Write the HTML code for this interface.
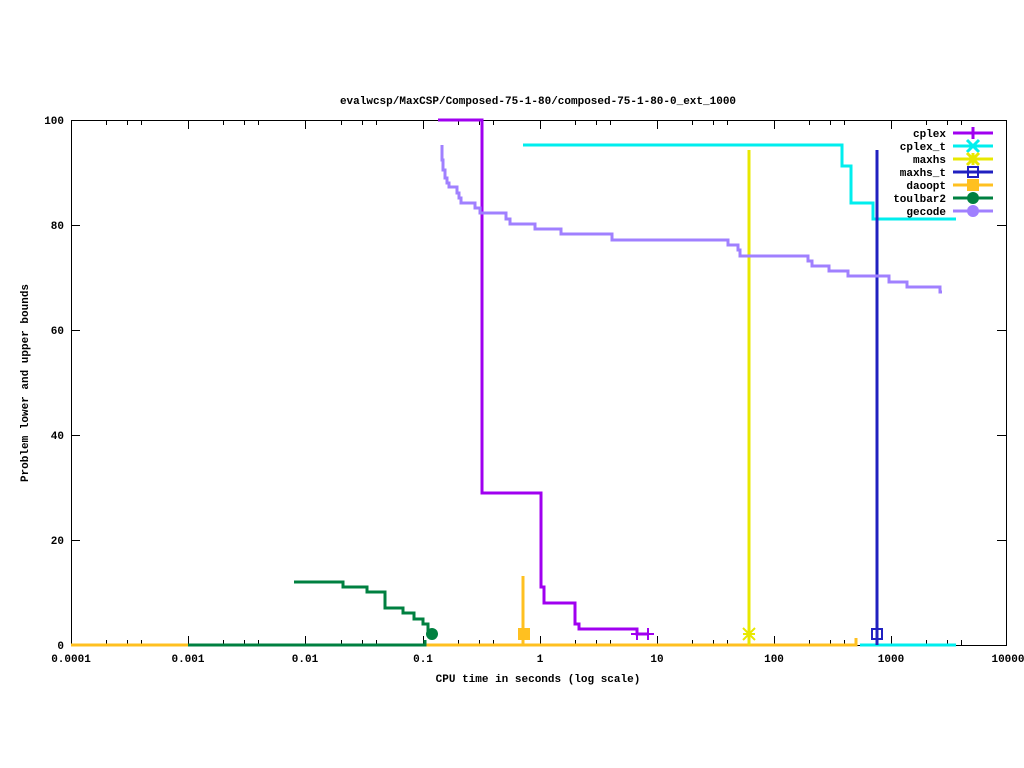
<!DOCTYPE html>
<html><head><meta charset="utf-8"><style>body{margin:0;background:#fff}svg{display:block}text{font-family:"Liberation Mono",monospace;font-size:11px;font-weight:bold;fill:#000}</style></head><body>
<svg width="1024" height="768" xmlns="http://www.w3.org/2000/svg">
<rect width="1024" height="768" fill="#fff"/>
<text x="538" y="104" text-anchor="middle">evalwcsp/MaxCSP/Composed-75-1-80/composed-75-1-80-0_ext_1000</text>
<g stroke="#000" stroke-width="1" fill="none">
<rect x="71.5" y="120.5" width="935" height="525"/>
<path d="M71 540.5h9M1006 540.5h-9M71 435.5h9M1006 435.5h-9M71 330.5h9M1006 330.5h-9M71 225.5h9M1006 225.5h-9"/>
<path d="M188.5 645v-9M188.5 120v9M305.5 645v-9M305.5 120v9M423.5 645v-9M423.5 120v9M540.5 645v-9M540.5 120v9M657.5 645v-9M657.5 120v9M774.5 645v-9M774.5 120v9M891.5 645v-9M891.5 120v9"/>
<path d="M106.5 645v-5M127.5 645v-5M141.5 645v-5M223.5 645v-5M244.5 645v-5M258.5 645v-5M341.5 645v-5M362.5 645v-5M376.5 645v-5M458.5 645v-5M479.5 645v-5M493.5 645v-5M575.5 645v-5M596.5 645v-5M610.5 645v-5M692.5 645v-5M713.5 645v-5M727.5 645v-5M809.5 645v-5M830.5 645v-5M844.5 645v-5M926.5 645v-5M947.5 645v-5M961.5 645v-5"/>
<path d="M106.5 120v5M127.5 120v5M141.5 120v5M223.5 120v5M244.5 120v5M258.5 120v5M341.5 120v5M362.5 120v5M376.5 120v5M458.5 120v5M479.5 120v5M493.5 120v5M575.5 120v5M596.5 120v5M610.5 120v5M692.5 120v5M713.5 120v5M727.5 120v5M809.5 120v5M830.5 120v5M844.5 120v5M926.5 120v5M947.5 120v5M961.5 120v5"/>
</g>
<g text-anchor="end">
<text x="64" y="649">0</text><text x="64" y="544">20</text><text x="64" y="439">40</text><text x="64" y="334">60</text><text x="64" y="229">80</text><text x="64" y="124">100</text>
</g>
<g text-anchor="middle">
<text x="71" y="662">0.0001</text><text x="188" y="662">0.001</text><text x="305" y="662">0.01</text><text x="423" y="662">0.1</text><text x="540" y="662">1</text><text x="657" y="662">10</text><text x="774" y="662">100</text><text x="891" y="662">1000</text><text x="1008" y="662">10000</text>
</g>
<text x="538" y="682" text-anchor="middle">CPU time in seconds (log scale)</text>
<text transform="translate(28,383) rotate(-90)" text-anchor="middle">Problem lower and upper bounds</text>
<g fill="none" stroke-width="3">
<path stroke="#000" stroke-width="2" d="M71 645H430"/>
<path stroke="#ffc020" d="M71 645H856V638M523 645V576"/>
<path stroke="#008040" d="M188 645H425V640M294 582H343V587H367V592H385V608H403V613H414V619H423V624H428V634"/>
<path stroke="#00eeee" d="M523 145H842V166H851V203H873V219H956M860 645H956"/>
<path stroke="#e8e800" d="M749 150V645"/>
<path stroke="#2020c0" d="M877 150V645"/>
<path stroke="#a000f0" d="M438 120H482V493H541V587H544V603H575V624H579V629H637V634H648"/>
<path stroke="#a080ff" d="M442 145V160H443V170H445V178H447V183H449V187H457V193H459V198H461V203H475V208H480V213H506V219H510V224H535V229H561V234H612V240H728V245H738V250H740V256H808V261H812V266H829V271H848V276H889V282H907V287H940V292H942"/>
</g>
<g stroke-width="2" fill="none">
<path stroke="#a000f0" d="M631 634h12M637 628v12M642 634h12M648 628v12"/>
<path stroke="#e8e800" d="M743 628l12 12M743 640l12-12M743 634h12M749 628v12"/>
<rect x="872" y="629" width="10" height="10" stroke="#2020c0"/>
</g>
<rect x="518" y="628" width="12" height="12" fill="#ffc020"/>
<circle cx="432" cy="634" r="6" fill="#008040"/>
<g text-anchor="end">
<text x="946" y="137">cplex</text><text x="946" y="150">cplex_t</text><text x="946" y="163">maxhs</text><text x="946" y="176">maxhs_t</text><text x="946" y="189">daoopt</text><text x="946" y="202">toulbar2</text><text x="946" y="215">gecode</text>
</g>
<g stroke-width="3" fill="none">
<path stroke="#a000f0" d="M953 133h40M973 127v12"/>
<path stroke="#00eeee" d="M953 146h40M967 140l12 12M967 152l12-12"/>
<path stroke="#e8e800" d="M953 159h40M967 153l12 12M967 165l12-12M973 153v12"/>
<path stroke="#2020c0" d="M953 172h40"/>
<path stroke="#ffc020" d="M953 185h40"/>
<path stroke="#008040" d="M953 198h40"/>
<path stroke="#a080ff" d="M953 211h40"/>
</g>
<rect x="968" y="167" width="10" height="10" fill="none" stroke="#2020c0" stroke-width="2"/>
<rect x="967" y="179" width="12" height="12" fill="#ffc020"/>
<circle cx="973" cy="198" r="6" fill="#008040"/>
<circle cx="973" cy="211" r="6" fill="#a080ff"/>
</svg>
</body></html>
